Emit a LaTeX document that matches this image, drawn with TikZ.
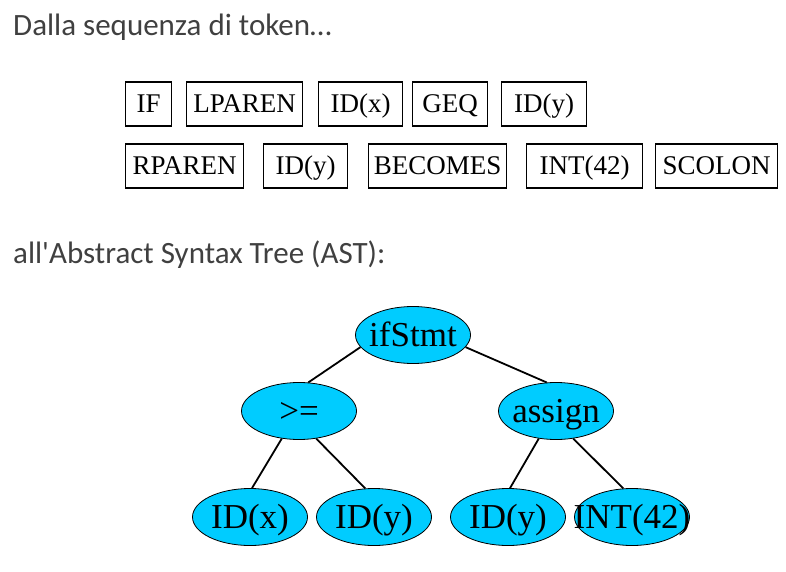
\documentclass[tikz,border=0pt]{standalone}
\usepackage{fontspec}
\setmainfont{Liberation Serif}
\newfontfamily\headfont{Carlito}
\usepackage{tikz}
\usetikzlibrary{positioning}
\usetikzlibrary{shapes.geometric}
\usepackage{xcolor}

\definecolor{headgray}{RGB}{64,64,64}
\definecolor{astcyan}{RGB}{0,204,255}

\newcommand{\astlab}[1]{\makebox[0pt]{#1}}

\tikzset{
  heading/.style={anchor=base west, inner sep=0, text=headgray, font=\headfont\fontsize{31}{31}\selectfont},
  tok/.style={draw, line width=1.2pt, anchor=west, inner sep=0, minimum height=44pt, text height=18pt, text depth=0pt, font=\fontsize{27}{27}\selectfont},
  astnode/.style={ellipse, draw, line width=0.8pt, fill=astcyan, inner sep=0, minimum width=115pt, minimum height=57pt, text height=23.5pt, text depth=0pt, font=\fontsize{35}{35}\selectfont},
  edge/.style={line width=1.8pt}
}

\begin{document}
\begin{tikzpicture}[x=1pt,y=-1pt]

\useasboundingbox (0,0) rectangle (786,572);

\node (h1) at (13,36) [heading] {Dalla sequenza di token…};

%tokens, first row
\node (t1) at (125,104) [tok, minimum width=46pt] {IF};
\node (t2) at (186,104) [tok, minimum width=116pt] {LPAREN};
\node (t3) at (318,104) [tok, minimum width=84pt] {ID(x)};
\node (t4) at (412,104) [tok, minimum width=75pt] {GEQ};
\node (t5) at (501,104) [tok, minimum width=85pt] {ID(y)};

%tokens, second row
\node (t6) at (125,166) [tok, minimum width=118pt] {RPAREN};
\node (t7) at (263,166) [tok, minimum width=84pt] {ID(y)};
\node (t8) at (368,166) [tok, minimum width=138pt] {BECOMES};
\node (t9) at (526,166) [tok, minimum width=116pt] {INT(42)};
\node (t10) at (655,166) [tok, minimum width=122pt] {SCOLON};

\node (h2) at (13,263) [heading] {all'Abstract Syntax Tree (AST):};

%the tree
\node (ifs) at (413,335) [astnode] {\astlab{ifStmt}};
\node (geq) at (299,411) [astnode] {\astlab{>=}};
\node (asg) at (556,411) [astnode] {\astlab{assign}};
\node (idx) at (250,517) [astnode] {\astlab{ID(x)}};
\node (idy) at (374,517) [astnode] {\astlab{ID(y)}};
\node (idy2) at (508,517) [astnode] {\astlab{ID(y)}};
\node (int) at (632,517) [astnode] {\astlab{INT(42)}};

\draw[edge] (ifs.193) -- (geq.72);
\draw[edge] (ifs.347) -- (asg.108);
\draw[edge] (geq.238) -- (idx.86);
\draw[edge] (geq.302) -- (idy.107);
\draw[edge] (asg.238) -- (idy2.86);
\draw[edge] (asg.302) -- (int.107);

\end{tikzpicture}
\end{document}
